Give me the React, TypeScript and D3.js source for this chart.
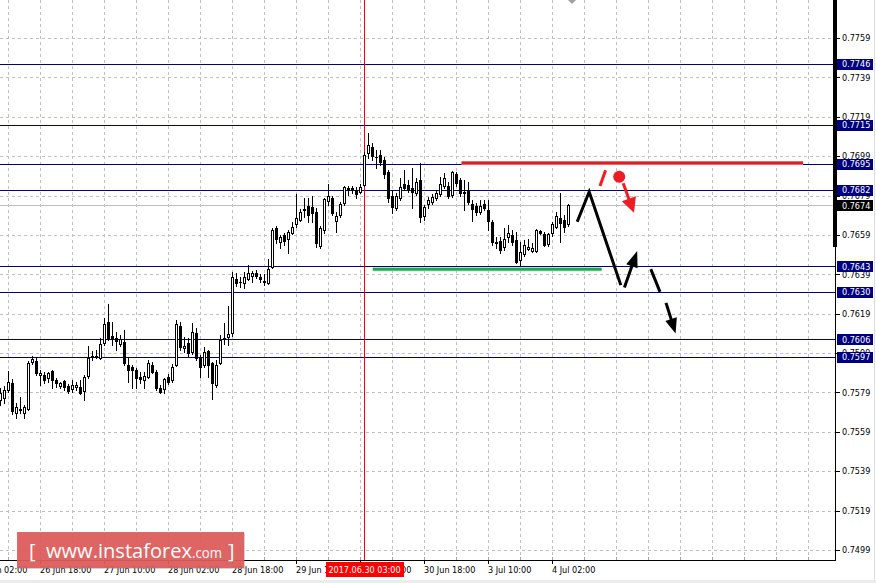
import React from "react";
import * as d3 from "d3";

// ---- Candles (H1): open / high / low / close ----
const opens = [
  0.75751, 0.75761, 0.75802, 0.75837, 0.75685, 0.757, 0.75685, 0.75705, 0.75944, 0.75949,
  0.75878, 0.75878, 0.75863, 0.75898, 0.75853, 0.75822, 0.75848, 0.75822, 0.75807, 0.75817,
  0.75817, 0.75797, 0.75873, 0.75969, 0.75975, 0.75964, 0.76041, 0.76147, 0.76076, 0.76066,
  0.76035, 0.76046, 0.75929, 0.75919, 0.75903, 0.75868, 0.75853, 0.75868, 0.75929, 0.75893,
  0.75812, 0.75807, 0.75868, 0.75853, 0.75929, 0.76127, 0.76015, 0.76041, 0.75995, 0.76091,
  0.75964, 0.75929, 0.76, 0.75939, 0.75827, 0.75939, 0.76061, 0.76071, 0.76091, 0.76366,
  0.7635, 0.76345, 0.76366, 0.76381, 0.76396, 0.76376, 0.76356, 0.76345, 0.76427, 0.76625,
  0.76554, 0.76589, 0.76569, 0.76599, 0.76645, 0.76665, 0.76716, 0.76737, 0.76731, 0.76706,
  0.76533, 0.76615, 0.76762, 0.76777, 0.7666, 0.76691, 0.76752, 0.76828, 0.76828, 0.76818,
  0.76808, 0.76843, 0.77006, 0.77036, 0.76985, 0.76996, 0.7697, 0.76909, 0.76787, 0.76726,
  0.76777, 0.76848, 0.76843, 0.76828, 0.76803, 0.76869, 0.76686, 0.76747, 0.76757, 0.76777,
  0.76797, 0.76838, 0.76838, 0.76792, 0.76899, 0.76869, 0.76808, 0.76818, 0.76747, 0.76737,
  0.76706, 0.76747, 0.76716, 0.76655, 0.76554, 0.76559, 0.76528, 0.76579, 0.76589, 0.76564,
  0.76462, 0.76493, 0.76518, 0.76508, 0.76508, 0.7661, 0.76594, 0.76543, 0.76599, 0.7663,
  0.76676, 0.76665, 0.76645,
];
const highs = [
  0.75812, 0.75822, 0.75898, 0.75858, 0.75736, 0.75766, 0.75726, 0.75949, 0.75975, 0.75969,
  0.75903, 0.75893, 0.75893, 0.75903, 0.75863, 0.75842, 0.75853, 0.75832, 0.75853, 0.75842,
  0.75853, 0.75878, 0.76025, 0.76, 0.76005, 0.76066, 0.76168, 0.76239, 0.76147, 0.76096,
  0.76081, 0.76107, 0.75969, 0.75929, 0.75914, 0.75893, 0.75893, 0.75954, 0.75944, 0.75903,
  0.75827, 0.75863, 0.75883, 0.75934, 0.76157, 0.76147, 0.76071, 0.76066, 0.76142, 0.76117,
  0.7598, 0.7602, 0.76005, 0.75944, 0.75954, 0.76081, 0.76142, 0.76229, 0.76401, 0.76396,
  0.76376, 0.76401, 0.76437, 0.76406, 0.76411, 0.76391, 0.76391, 0.76467, 0.76625, 0.76635,
  0.76589, 0.76599, 0.76615, 0.76655, 0.76797, 0.76721, 0.76777, 0.76777, 0.76787, 0.76726,
  0.76635, 0.76777, 0.76848, 0.76787, 0.76706, 0.76757, 0.76838, 0.76838, 0.76838, 0.76833,
  0.76848, 0.77011, 0.77107, 0.77057, 0.77021, 0.77021, 0.76985, 0.76919, 0.76818, 0.76803,
  0.76879, 0.76919, 0.76869, 0.7693, 0.76879, 0.76955, 0.76742, 0.76782, 0.76797, 0.76818,
  0.76884, 0.76904, 0.76858, 0.76914, 0.76909, 0.76879, 0.76869, 0.76858, 0.76767, 0.76752,
  0.76767, 0.76767, 0.76767, 0.76665, 0.76579, 0.76579, 0.76625, 0.7664, 0.76615, 0.76604,
  0.76554, 0.76564, 0.76569, 0.76549, 0.7662, 0.76615, 0.76604, 0.76599, 0.76655, 0.76706,
  0.76803, 0.76691, 0.76745,
];
const lows = [
  0.75726, 0.75736, 0.75792, 0.7568, 0.7566, 0.75685, 0.7566, 0.757, 0.75934, 0.75878,
  0.75827, 0.75837, 0.75842, 0.75812, 0.75817, 0.75812, 0.75802, 0.75787, 0.75792, 0.75802,
  0.75782, 0.75751, 0.75863, 0.75954, 0.75964, 0.75959, 0.7603, 0.76056, 0.7603, 0.76005,
  0.76025, 0.75929, 0.75842, 0.75812, 0.75812, 0.75837, 0.75812, 0.75863, 0.75888, 0.75802,
  0.75787, 0.75787, 0.75832, 0.75842, 0.75924, 0.76005, 0.75995, 0.75975, 0.75985, 0.75954,
  0.75868, 0.75919, 0.75868, 0.75756, 0.75817, 0.75934, 0.76035, 0.7603, 0.76076, 0.7633,
  0.76325, 0.7632, 0.76361, 0.7635, 0.76371, 0.7635, 0.76335, 0.7634, 0.76422, 0.76549,
  0.76523, 0.76538, 0.76498, 0.76594, 0.7663, 0.7666, 0.76681, 0.76655, 0.76655, 0.76528,
  0.76523, 0.76599, 0.76742, 0.76691, 0.76604, 0.76681, 0.76742, 0.76792, 0.76803, 0.76777,
  0.76803, 0.76838, 0.7698, 0.7697, 0.7693, 0.76945, 0.76879, 0.76757, 0.76701, 0.76716,
  0.76767, 0.76818, 0.76808, 0.76726, 0.76792, 0.76655, 0.76665, 0.76726, 0.76747, 0.76767,
  0.76787, 0.76828, 0.76777, 0.76782, 0.76838, 0.76787, 0.76716, 0.76747, 0.7666, 0.76691,
  0.76696, 0.76716, 0.76615, 0.76538, 0.76523, 0.76498, 0.76513, 0.76554, 0.76538, 0.76447,
  0.76437, 0.76483, 0.76513, 0.76503, 0.76503, 0.76594, 0.76533, 0.76533, 0.76584, 0.76625,
  0.76554, 0.76604, 0.76635,
];
const closes = [
  0.75787, 0.75802, 0.75842, 0.75695, 0.75715, 0.75705, 0.75715, 0.75939, 0.75959, 0.75888,
  0.75888, 0.75853, 0.75888, 0.75853, 0.75837, 0.75837, 0.75817, 0.75797, 0.75827, 0.75827,
  0.75787, 0.75868, 0.75964, 0.75975, 0.75972, 0.76035, 0.76137, 0.76066, 0.76061, 0.76051,
  0.76061, 0.75939, 0.75903, 0.75903, 0.75863, 0.75858, 0.75873, 0.75939, 0.75893, 0.75812,
  0.75792, 0.75858, 0.75842, 0.75919, 0.76137, 0.7602, 0.76025, 0.7599, 0.76096, 0.75964,
  0.75919, 0.75995, 0.75929, 0.75837, 0.75929, 0.76056, 0.76066, 0.76086, 0.76376, 0.76345,
  0.76353, 0.76376, 0.76396, 0.76396, 0.76381, 0.76366, 0.76353, 0.76416, 0.76615, 0.76569,
  0.76579, 0.76559, 0.76604, 0.7663, 0.76676, 0.76706, 0.76721, 0.76691, 0.76701, 0.76549,
  0.76625, 0.76772, 0.76787, 0.76701, 0.76686, 0.76747, 0.76833, 0.76818, 0.76825, 0.76797,
  0.76833, 0.76996, 0.77046, 0.76991, 0.76987, 0.7696, 0.76899, 0.76777, 0.76731, 0.76787,
  0.76833, 0.76828, 0.76823, 0.76808, 0.76858, 0.76681, 0.76731, 0.76767, 0.76782, 0.76803,
  0.76848, 0.76879, 0.76787, 0.76909, 0.76853, 0.76803, 0.76805, 0.76757, 0.76721, 0.76706,
  0.76737, 0.76726, 0.7666, 0.76554, 0.76549, 0.76513, 0.76569, 0.76599, 0.76554, 0.76452,
  0.76503, 0.76538, 0.76528, 0.76523, 0.76615, 0.76599, 0.76538, 0.76594, 0.76645, 0.76686,
  0.7665, 0.7663, 0.7674,
];

// ---- Axes ----
const priceTicks = [0.7759, 0.7739, 0.7719, 0.7699, 0.7679, 0.7659, 0.7639, 0.7619, 0.7599, 0.7579, 0.7559, 0.7539, 0.7519, 0.7499];
const timeTickIndex = [-6, 10, 26, 42, 58, 74, 90, 106, 122, 138];
const timeTickLabels = ["26 Jun 02:00", "26 Jun 18:00", "27 Jun 10:00", "28 Jun 02:00", "28 Jun 18:00", "29 Jun 10:00", "30 Jun 02:00", "30 Jun 18:00", "3 Jul 10:00", "4 Jul 02:00"];
const gridIndex = d3.range(2, 203, 8);

// ---- Levels & annotations ----
const levelPrices = [0.7746, 0.7715, 0.7695, 0.7682, 0.7643, 0.763, 0.7606, 0.7597];
const currentPrice = 0.7674;
const markerIndex = 91;
const markerLabel = "2017.06.30 03:00";
const resistance = { price: 0.76955, from: 115.4, to: 200.75 };
const support = { price: 0.76416, from: 93.2, to: 150.4 };
const forecastPath: [number, number][] = [[144.3, 0.76657], [147.3, 0.76809], [155.2, 0.76335]];
const upArrow: [number, number][] = [[156.1, 0.76323], [159.3, 0.76508]];
const dashSeg: [number, number][] = [[162.7, 0.76416], [165, 0.76301]];
const downArrow: [number, number][] = [[166.5, 0.76245], [168.9, 0.7609]];
const redDash: [number, number][] = [[150, 0.76838], [151.4, 0.76919]];
const redDot: [number, number] = [154.8, 0.76885];
const redArrow: [number, number][] = [[155.8, 0.76852], [158.5, 0.76702]];

const FONT = '"DejaVu Sans Condensed", "Liberation Sans", sans-serif';

function arrowShape(p1: number[], p2: number[], L: number, w: number) {
  const dx = p2[0] - p1[0], dy = p2[1] - p1[1];
  const len = Math.hypot(dx, dy);
  const ux = dx / len, uy = dy / len;
  const bx = p2[0] - ux * L, by = p2[1] - uy * L;
  const nx = -uy, ny = ux;
  return {
    line: [p1[0], p1[1], bx + ux * 2, by + uy * 2],
    head: `${p2[0]},${p2[1]} ${bx + nx * w / 2},${by + ny * w / 2} ${bx - nx * w / 2},${by - ny * w / 2}`,
  };
}

export default function App() {
  const W = 876, H = 583;
  const plotRight = 835, plotBottom = 560;
  const x = d3.scaleLinear().domain([0, 208.75]).range([0, 835]);
  const y = d3.scaleLinear().domain([0.7759, 0.7499]).range([38, 550]);
  const P = (d: [number, number]) => [x(d[0]), y(d[1])];

  const fp = d3.line<[number, number]>().x(d => x(d[0])).y(d => y(d[1]))(forecastPath) || "";
  const up = arrowShape(P(upArrow[0]), P(upArrow[1]), 16, 12);
  const dn = arrowShape(P(downArrow[0]), P(downArrow[1]), 15, 12);
  const ra = arrowShape(P(redArrow[0]), P(redArrow[1]), 15, 15);
  const mx = Math.round(x(markerIndex)) + 0.5;

  return (
    <svg width={W} height={H} style={{ position: "absolute", left: 0, top: 0, background: "#fff" }} fontFamily={FONT}>
      <rect x={0} y={0} width={W} height={H} fill="#fff" />
      {/* grid */}
      {priceTicks.map((v, k) => (
        <line key={"hg" + k} x1={0} x2={plotRight} y1={Math.round(y(v)) + 0.5} y2={Math.round(y(v)) + 0.5} stroke="#c0c0c0" strokeDasharray="3,3" />
      ))}
      {gridIndex.map((g, k) => (
        <line key={"vg" + k} x1={Math.round(x(g)) + 0.5} x2={Math.round(x(g)) + 0.5} y1={0} y2={plotBottom} stroke="#c0c0c0" strokeDasharray="3,3" />
      ))}
      {/* current price line */}
      <line x1={0} x2={plotRight} y1={Math.round(y(currentPrice)) + 0.5} y2={Math.round(y(currentPrice)) + 0.5} stroke="#c0c0c0" />
      {/* level lines */}
      {levelPrices.map((v, k) => (
        <line key={"lv" + k} x1={0} x2={plotRight} y1={Math.round(y(v)) + 0.5} y2={Math.round(y(v)) + 0.5} stroke="#000080" strokeWidth={1.2} />
      ))}
      {/* marker line */}
      <line x1={mx} x2={mx} y1={0} y2={plotBottom} stroke="#ff0000" />
      {/* resistance & support */}
      <line x1={x(resistance.from)} x2={x(resistance.to)} y1={y(resistance.price)} y2={y(resistance.price)} stroke="#f08080" strokeWidth={4} />
      <line x1={x(resistance.from)} x2={x(resistance.to)} y1={y(resistance.price)} y2={y(resistance.price)} stroke="#e01c24" strokeWidth={2.4} />
      <line x1={x(support.from)} x2={x(support.to)} y1={y(support.price)} y2={y(support.price)} stroke="#8fd9a0" strokeWidth={4} />
      <line x1={x(support.from)} x2={x(support.to)} y1={y(support.price)} y2={y(support.price)} stroke="#1ea84a" strokeWidth={2.4} />
      {/* candles */}
      {opens.map((o, i) => {
        const cx = Math.round(x(i));
        const yo = Math.round(y(o)), yc = Math.round(y(closes[i]));
        const yh = Math.round(y(highs[i])), yl = Math.round(y(lows[i]));
        const top = Math.min(yo, yc), bot = Math.max(yo, yc);
        const bull = closes[i] >= o;
        return (
          <g key={"c" + i}>
            <rect x={cx} y={yh} width={1} height={yl - yh + 1} fill="#000" />
            {bot > top ? (
              <rect x={cx - 0.5} y={top + 0.5} width={2} height={bot - top} fill={bull ? "#fff" : "#000"} stroke="#000" />
            ) : (
              <rect x={cx - 1} y={top} width={3} height={1} fill="#000" />
            )}
          </g>
        );
      })}
      {/* forecast drawings */}
      <path d={fp} fill="none" stroke="#000" strokeWidth={3} strokeLinejoin="miter" />
      <line x1={up.line[0]} y1={up.line[1]} x2={up.line[2]} y2={up.line[3]} stroke="#000" strokeWidth={3} />
      <polygon points={up.head} fill="#000" />
      <line x1={x(dashSeg[0][0])} y1={y(dashSeg[0][1])} x2={x(dashSeg[1][0])} y2={y(dashSeg[1][1])} stroke="#000" strokeWidth={3} />
      <line x1={dn.line[0]} y1={dn.line[1]} x2={dn.line[2]} y2={dn.line[3]} stroke="#000" strokeWidth={3} />
      <polygon points={dn.head} fill="#000" />
      <line x1={x(redDash[0][0])} y1={y(redDash[0][1])} x2={x(redDash[1][0])} y2={y(redDash[1][1])} stroke="#ee1c25" strokeWidth={3} />
      <circle cx={x(redDot[0])} cy={y(redDot[1])} r={6} fill="#ee1c25" />
      <line x1={ra.line[0]} y1={ra.line[1]} x2={ra.line[2]} y2={ra.line[3]} stroke="#ee1c25" strokeWidth={3} />
      <polygon points={ra.head} fill="#ee1c25" />
      {/* chart-shift marker */}
      <polygon points="568,0 576,0 572,4" fill="#a0a0a0" />
      {/* axes */}
      <rect x={plotRight - 2} y={0} width={4} height={247} fill="#000" />
      <line x1={plotRight + 0.5} x2={plotRight + 0.5} y1={0} y2={plotBottom + 1} stroke="#000" />
      <line x1={0} x2={plotRight + 1} y1={plotBottom + 0.5} y2={plotBottom + 0.5} stroke="#000" />
      {gridIndex.map((g, k) => (
        <line key={"gt" + k} x1={Math.round(x(g)) + 0.5} x2={Math.round(x(g)) + 0.5} y1={plotBottom - 3} y2={plotBottom} stroke="#a0a0a0" />
      ))}
      {priceTicks.map((v, k) => (
        <g key={"pt" + k}>
          <line x1={plotRight + 1} x2={plotRight + 5} y1={Math.round(y(v)) + 0.5} y2={Math.round(y(v)) + 0.5} stroke="#000" />
          <text x={842} y={y(v)} dy="0.36em" fontSize={9} fill="#000">{v.toFixed(4)}</text>
        </g>
      ))}
      {timeTickIndex.map((t, k) => (
        <g key={"tt" + k}>
          <line x1={Math.round(x(t)) + 0.5} x2={Math.round(x(t)) + 0.5} y1={plotBottom + 1} y2={plotBottom + 4} stroke="#000" />
          <text x={x(t)} y={573} fontSize={9} fill="#000">{timeTickLabels[k]}</text>
        </g>
      ))}
      {/* marker label */}
      <rect x={mx - 38.5} y={562} width={78} height={15} fill="#ff0000" />
      <text x={mx} y={573} fontSize={9} fill="#fff" textAnchor="middle">{markerLabel}</text>
      {/* level labels */}
      {levelPrices.map((v, k) => (
        <g key={"ll" + k}>
          <rect x={837} y={Math.round(y(v)) - 5} width={36} height={11} fill="#000080" />
          <text x={842} y={y(v)} dy="0.36em" fontSize={9} fill="#fff">{v.toFixed(4)}</text>
        </g>
      ))}
      <rect x={837} y={Math.round(y(currentPrice)) - 5} width={36} height={11} fill="#000" />
      <text x={842} y={y(currentPrice)} dy="0.36em" fontSize={9} fill="#fff">{currentPrice.toFixed(4)}</text>
      {/* window frame */}
      <line x1={874.5} x2={874.5} y1={0} y2={581} stroke="#dcdcdc" />
      <rect x={0} y={580} width={W} height={3} fill="#ececec" />
      {/* watermark */}
      <rect x={18} y={533} width={227} height={36} fill="#7a7a7a" opacity={0.35} />
      <rect x={17} y={532} width={227} height={36} fill="#e05a5a" opacity={0.92} />
      <g fill="#fff" fontFamily='"Open Sans", "DejaVu Sans", sans-serif'>
        <text x={29} y={558} fontSize={20}>[</text>
        <text x={46} y={558} fontSize={20} textLength={146} lengthAdjust="spacingAndGlyphs">www.instaforex</text>
        <text x={192} y={558} fontSize={14} textLength={30} lengthAdjust="spacingAndGlyphs">.com</text>
        <text x={228} y={558} fontSize={20}>]</text>
      </g>
    </svg>
  );
}
